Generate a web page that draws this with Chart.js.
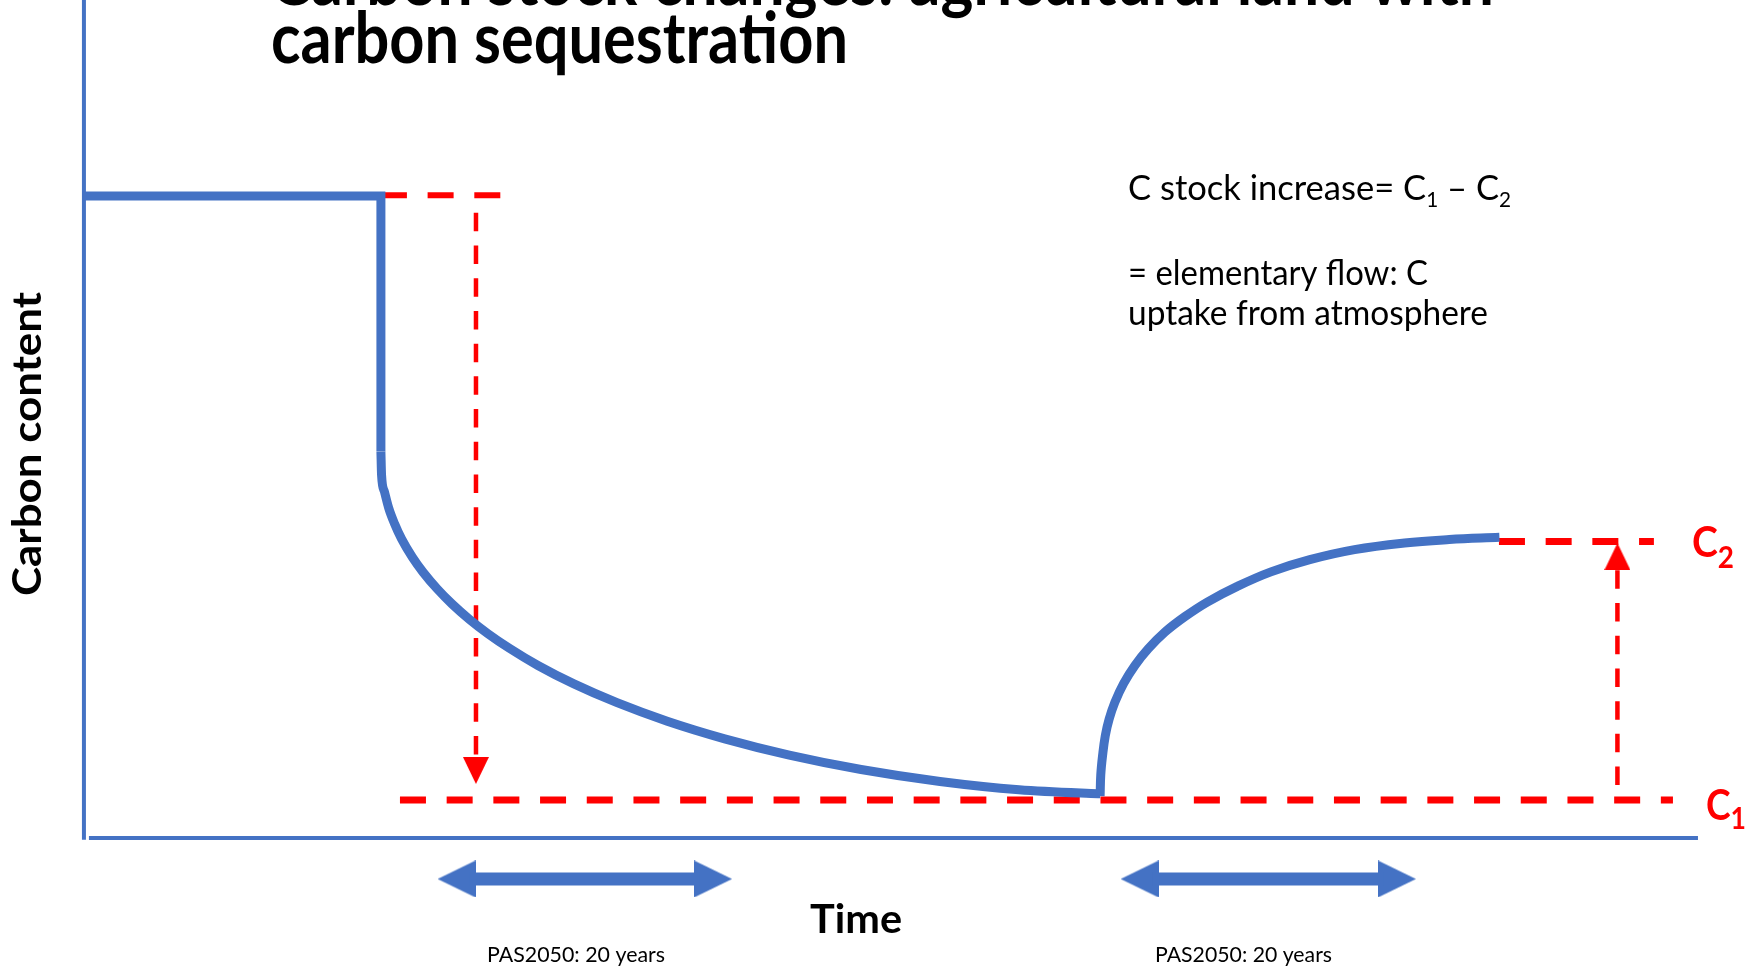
<!DOCTYPE html>
<html lang="en">
<head>
<meta charset="UTF-8">
<title>Carbon stock changes: agricultural land with carbon sequestration</title>
<script src="https://cdn.jsdelivr.net/npm/chart.js"></script>
<style>
  body { margin: 0; background: #ffffff; }
  #wrap { width: 1748px; height: 969px; }
</style>
</head>
<body>
<div id="wrap"><canvas id="chart" width="1748" height="969"></canvas></div>
<script>
// time runs 0..100 along the x axis, carbon content 0..100 up the y axis (arbitrary units)
const xRange = [-5.2, 103.1];
const yRange = [-15.63, 100];

// original land: steady stock, then the sudden drop at conversion
const steadyTime = [0, 18.4, 18.4];
const steadyCarbon = [76.6, 76.6, 46.12];

// slow loss down to C1
const lossTime = [18.4, 18.44, 18.62, 18.88, 19.24, 19.68, 20.35, 21.02, 21.91, 22.8, 23.91, 25.02, 26.36, 28.13, 30.36, 33.03, 36.14, 39.7, 43.7, 48.15, 53.04, 57.94, 62.83, 62.97];
const lossCarbon = [46.12, 43.33, 41.32, 39.4, 37.53, 35.69, 33.5, 31.7, 29.68, 27.94, 26.05, 24.4, 22.64, 20.59, 18.39, 16.15, 13.94, 11.84, 9.9, 8.18, 6.75, 5.76, 5.28, 5.27];

// sequestration: uptake back up towards C2
const gainTime = [62.96, 63.0, 63.11, 63.28, 63.52, 63.87, 64.42, 65.11, 65.94, 66.97, 68.22, 69.6, 71.46, 73.54, 75.95, 78.72, 81.82, 84.59, 87.7];
const gainCarbon = [5.0, 7.54, 9.81, 12.2, 14.19, 16.19, 18.45, 20.58, 22.58, 24.57, 26.43, 28.16, 30.03, 31.76, 33.22, 34.42, 35.21, 35.61, 35.88];

// red guides
const startLevel = 76.7;
const startGuide = [18.4, 25.84];
const c1Level = 4.53;
const c1Guide = [19.58, 98.45];
const c2Level = 35.38;
const c2Guide = [87.67, 97.27];
const lossArrowTime = 24.29;
const lossArrow = [74.6, 9.9, 8.05];   // shaft top, shaft bottom, head
const gainArrowTime = 95.01;
const gainArrow = [6.32, 31.98, 33.59];

// the two 20 year windows (arrow tips)
const periodLevel = -4.89;
const periodStart = [21.91, 64.23];
const periodEnd = [40.16, 82.53];

const titleLines = ['Carbon stock changes: agricultural land with', 'carbon sequestration'];
const xLabel = 'Time';
const yLabel = 'Carbon content';
const periodLabel = 'PAS2050: 20 years';
const noteLines = ['= elementary flow: C', 'uptake from atmosphere'];

const BLUE = '#4472C4';
const RED = '#FF0000';

function zip(xs, ys) {
    return xs.map((x, i) => ({ x: x, y: ys[i] }));
}

function head(w, h, color) {
    // triangle pointing up, centred on the canvas
    const c = document.createElement('canvas');
    c.width = w; c.height = h;
    const g = c.getContext('2d');
    g.fillStyle = color;
    g.beginPath();
    g.moveTo(0, h); g.lineTo(w / 2, 0); g.lineTo(w, h);
    g.closePath(); g.fill();
    return c;
}

const redHead = head(26, 27, RED);
const blueHead = head(37, 38, BLUE);

function line(data, color, width, extra) {
    return Object.assign({
        data: data, borderColor: color, borderWidth: width,
        pointRadius: 0, fill: false, tension: 0
    }, extra || {});
}

const datasets = [
    line(zip(steadyTime, steadyCarbon), BLUE, 9, { borderJoinStyle: 'miter' }),
    line(zip(lossTime, lossCarbon), BLUE, 9, { cubicInterpolationMode: 'monotone' }),
    line(zip(gainTime, gainCarbon), BLUE, 9, { tension: 0.4 }),
    line([{ x: 0, y: -0.2 }, { x: 0, y: 100 }], BLUE, 4),
    line([{ x: 0.31, y: 0 }, { x: 100, y: 0 }], BLUE, 4),
    line(startGuide.map(x => ({ x: x, y: startLevel })), RED, 6, { borderDash: [26, 20.7] }),
    line(c1Guide.map(x => ({ x: x, y: c1Level })), RED, 7, { borderDash: [26, 20.7] }),
    line(c2Guide.map(x => ({ x: x, y: c2Level })), RED, 7, { borderDash: [26, 20.7] }),
    line([{ x: lossArrowTime, y: lossArrow[0] }, { x: lossArrowTime, y: lossArrow[1] }], RED, 4.5, { borderDash: [18.5, 14.2] }),
    line([{ x: gainArrowTime, y: gainArrow[0] }, { x: gainArrowTime, y: gainArrow[1] }], RED, 4.5, { borderDash: [18.5, 14.2] }),
    {
        data: [{ x: lossArrowTime, y: lossArrow[2] }, { x: gainArrowTime, y: gainArrow[2] }],
        showLine: false, pointStyle: redHead, pointRadius: 10, pointRotation: [180, 0], pointBorderWidth: 0
    }
];

// 20 year windows: shaft plus a head at each end
periodStart.forEach((s, i) => {
    const e = periodEnd[i];
    datasets.push(line([{ x: s + 2.0, y: periodLevel }, { x: e - 2.0, y: periodLevel }], BLUE, 13));
    datasets.push({
        data: [{ x: s + 1.18, y: periodLevel }, { x: e - 1.18, y: periodLevel }],
        showLine: false, pointStyle: blueHead, pointRadius: 10, pointRotation: [270, 90], pointBorderWidth: 0
    });
});

function fitText(ctx, text, x, y, width, align) {
    const s = width / ctx.measureText(text).width;
    ctx.save();
    ctx.translate(x, y);
    ctx.scale(s, 1);
    ctx.textAlign = align;
    ctx.fillText(text, 0, 0);
    ctx.restore();
}

// runs of [text, size, drop]
function richText(ctx, parts, x, y, width, weight) {
    const widths = parts.map(p => {
        ctx.font = weight + ' ' + p[1] + 'px Lato';
        return ctx.measureText(p[0]).width;
    });
    const s = width / widths.reduce((a, b) => a + b, 0);
    ctx.save();
    ctx.translate(x, y);
    ctx.scale(s, 1);
    ctx.textAlign = 'left';
    let cx = 0;
    parts.forEach((p, i) => {
        ctx.font = weight + ' ' + p[1] + 'px Lato';
        ctx.fillText(p[0], cx, p[2]);
        cx += widths[i];
    });
    ctx.restore();
}

const textPlugin = {
    id: 'diagramText',
    afterDatasetsDraw(chart) {
        const ctx = chart.ctx;
        ctx.save();
        ctx.textBaseline = 'alphabetic';
        ctx.fillStyle = '#000000';

        ctx.font = 'bold 70px Lato';
        fitText(ctx, titleLines[0], 270, 5, 1224, 'left');
        fitText(ctx, titleLines[1], 271, 63, 577, 'left');

        ctx.font = 'bold 40px Lato';
        fitText(ctx, xLabel, 856, 933, 92, 'center');
        ctx.save();
        ctx.translate(41, 444);
        ctx.rotate(-Math.PI / 2);
        fitText(ctx, yLabel, 0, 0, 304, 'center');
        ctx.restore();

        ctx.font = '21px Lato';
        fitText(ctx, periodLabel, 576, 962, 178, 'center');
        fitText(ctx, periodLabel, 1243.5, 962, 177, 'center');

        richText(ctx, [['C stock increase= C', 35, 0], ['1', 21, 7], [' \u2013 C', 35, 0], ['2', 21, 7]], 1128, 200, 383, 'normal');
        ctx.font = '35px Lato';
        fitText(ctx, noteLines[0], 1128, 285, 300, 'left');
        fitText(ctx, noteLines[1], 1128, 325, 360, 'left');

        ctx.fillStyle = RED;
        richText(ctx, [['C', 42, 0], ['2', 30, 11]], 1692, 557, 42, 'bold');
        richText(ctx, [['C', 42, 0], ['1', 30, 9]], 1706, 820, 40, 'bold');
        ctx.restore();
    }
};

new Chart(document.getElementById('chart').getContext('2d'), {
    type: 'line',
    data: { datasets: datasets },
    options: {
        responsive: false,
        animation: false,
        events: [],
        layout: { padding: 0, autoPadding: false },
        plugins: { legend: { display: false }, tooltip: { enabled: false }, title: { display: false } },
        scales: {
            x: { type: 'linear', min: xRange[0], max: xRange[1], display: false },
            y: { type: 'linear', min: yRange[0], max: yRange[1], display: false }
        }
    },
    plugins: [textPlugin]
});
</script>
</body>
</html>
